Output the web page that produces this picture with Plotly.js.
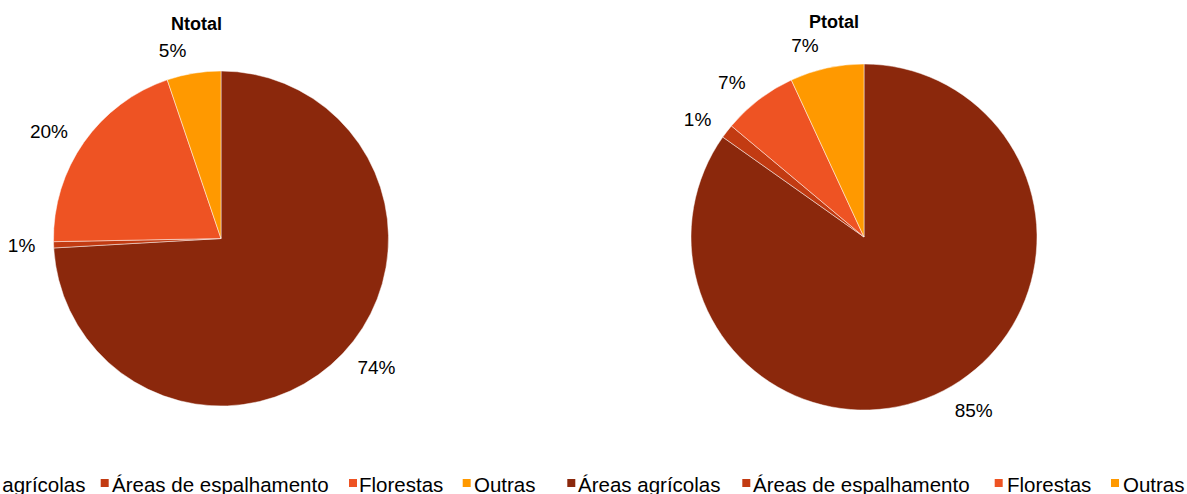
<!DOCTYPE html>
<html>
<head>
<meta charset="utf-8">
<script src="https://cdn.plot.ly/plotly-3.0.1.min.js"></script>
<style>
  html, body { margin: 0; padding: 0; background: #fff; }
  #chart { width: 1187px; height: 494px; }
</style>
</head>
<body>
<div id="chart"></div>
<script>
// ---- data ----
const categories = ['Áreas agrícolas', 'Áreas de espalhamento', 'Florestas', 'Outras'];
const ntotalValues = [74.1, 0.6, 20.1, 5.2];
const ptotalValues = [84.8, 1.3, 7.0, 6.9];
const chartTitles = ['Ntotal', 'Ptotal'];

// ---- styles ----
const colors = ['#8B280C', '#C23B12', '#EE5323', '#FF9900'];
const W = 1187, H = 494;
const FONT = 'Liberation Sans, Arial, sans-serif';

function px2x(px) { return px / W; }
function px2y(py) { return 1 - py / H; }

// pie placement (pixel centres / radii)
const pies = [
  { cx: 221, cy: 238.5, r: 167.5, values: ntotalValues },
  { cx: 864, cy: 237, r: 173, values: ptotalValues }
];
const labelPad = 13; // extra distance of the percentage labels from the rim

function domainFor(p, r) {
  return {
    x: [px2x(p.cx - r), px2x(p.cx + r)],
    y: [px2y(p.cy + r), px2y(p.cy - r)]
  };
}

const traces = [];
pies.forEach(p => {
  // visible pie
  traces.push({
    type: 'pie',
    labels: categories,
    values: p.values,
    sort: false,
    direction: 'clockwise',
    rotation: 0,
    marker: { colors: colors, line: { color: 'rgba(255,255,255,0.6)', width: 0.8 } },
    textinfo: 'none',
    hoverinfo: 'label+percent',
    showlegend: false,
    domain: domainFor(p, p.r)
  });
  // transparent twin pie, slightly larger, that carries the outside percentage labels
  traces.push({
    type: 'pie',
    labels: categories,
    values: p.values,
    sort: false,
    direction: 'clockwise',
    rotation: 0,
    marker: { colors: categories.map(() => 'rgba(0,0,0,0)'), line: { width: 0 } },
    textposition: 'outside',
    texttemplate: '%{percent:.0%}',
    textfont: { family: FONT, size: 19, color: '#000' },
    hoverinfo: 'skip',
    showlegend: false,
    domain: domainFor(p, p.r + labelPad)
  });
});

// titles
const titlePos = [{ x: 196, y: 24 }, { x: 834, y: 22 }];
const annotations = chartTitles.map((t, i) => ({
  text: '<b>' + t + '</b>',
  xref: 'paper', yref: 'paper',
  x: px2x(titlePos[i].x), y: px2y(titlePos[i].y),
  xanchor: 'center', yanchor: 'middle',
  showarrow: false,
  font: { family: FONT, size: 18, color: '#000' }
}));

// custom legends (one row per pie, as in the original)
const legendRows = [
  { markers: [-68.4, 100.7, 349, 462.7], texts: [-57.4, 111.7, 359.3, 474] },
  { markers: [567.3, 742.3, 994.7, 1111], texts: [578.3, 753.3, 1007.3, 1123.3] }
];
const legendMarkerY = [479, 487];
const legendTextY = 484.5;
const shapes = [];
legendRows.forEach(row => {
  categories.forEach((c, k) => {
    shapes.push({
      type: 'rect', xref: 'paper', yref: 'paper',
      x0: px2x(row.markers[k]), x1: px2x(row.markers[k] + 8),
      y0: px2y(legendMarkerY[1]), y1: px2y(legendMarkerY[0]),
      fillcolor: colors[k], line: { width: 0 }
    });
    annotations.push({
      text: c,
      xref: 'paper', yref: 'paper',
      x: px2x(row.texts[k] - 2), y: px2y(legendTextY),
      xanchor: 'left', yanchor: 'middle',
      showarrow: false,
      font: { family: FONT, size: 20.5, color: '#000' }
    });
  });
});

const layout = {
  width: W, height: H,
  margin: { l: 0, r: 0, t: 0, b: 0, autoexpand: false },
  paper_bgcolor: '#fff',
  plot_bgcolor: '#fff',
  showlegend: false,
  annotations: annotations,
  shapes: shapes,
  font: { family: FONT }
};

Plotly.newPlot('chart', traces, layout, { displayModeBar: false, staticPlot: true });
</script>
</body>
</html>
